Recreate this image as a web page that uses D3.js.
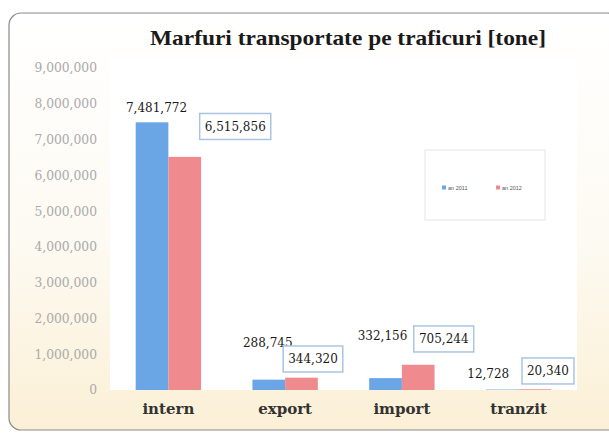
<!DOCTYPE html>
<html><head><meta charset="utf-8">
<script src="https://cdn.jsdelivr.net/npm/d3@7"></script>
<style>body{margin:0;background:#fff}</style>
</head><body>
<svg id="c" width="609" height="436"></svg>
<script>
const categories = ["intern", "export", "import", "tranzit"];
const seriesNames = ["an 2011", "an 2012"];
const series1 = [7481772, 288745, 332156, 12728];
const series2 = [6515856, 344320, 705244, 20340];
const yTicks = [0,1000000,2000000,3000000,4000000,5000000,6000000,7000000,8000000,9000000];
const title = "Marfuri transportate pe traficuri [tone]";

(function(){
const svg = d3.select("#c");
const defs = svg.append("defs");
const g1 = defs.append("linearGradient").attr("id","bg").attr("x1",0).attr("y1",0).attr("x2",0).attr("y2",1);
g1.append("stop").attr("offset","0%").attr("stop-color","#ffffff");
g1.append("stop").attr("offset","55%").attr("stop-color","#fdfaf2");
g1.append("stop").attr("offset","100%").attr("stop-color","#fbf0d6");

svg.append("rect").attr("x",9).attr("y",13).attr("width",610).attr("height",417).attr("rx",12)
  .attr("fill","url(#bg)").attr("stroke","#8a8a8a").attr("stroke-width",1.2);

const pl=110, pr=577, pt=58, pb=390;
const x = d3.scaleBand().domain(categories).range([pl,pr]).paddingInner(0.44).paddingOuter(0.22);
const x1 = d3.scaleBand().domain([0,1]).range([0,x.bandwidth()]);
const y = d3.scaleLinear().domain([0,9000000]).range([pb,68]);

svg.append("rect").attr("x",pl).attr("y",pt).attr("width",pr-pl).attr("height",pb-pt).attr("fill","#fff");

svg.append("text").attr("x",348).attr("y",45).attr("text-anchor","middle")
  .attr("font-family","Liberation Serif").attr("font-weight","bold").attr("font-size",21)
  .attr("textLength",396).attr("lengthAdjust","spacingAndGlyphs").attr("fill","#1a1a1a").text(title);

const ax = svg.append("g").attr("transform",`translate(97,0)`)
  .call(d3.axisLeft(y).tickValues(yTicks).tickFormat(d3.format(",")).tickSize(0).tickPadding(0));
ax.select(".domain").remove();
ax.selectAll("text").attr("font-family","DejaVu Serif").attr("font-size",12.3).attr("fill","#aaa");

const colors = ["#6aa5e6","#ef8a8f"];
const data = [series1, series2];
data.forEach((s,si)=>{
  svg.append("g").selectAll("rect").data(s).join("rect")
    .attr("x",(d,i)=>x(categories[i])+x1(si))
    .attr("width",x1.bandwidth())
    .attr("y",d=>y(d)).attr("height",d=>pb-y(d))
    .attr("fill",colors[si]);
});

svg.append("g").selectAll("text").data(categories).join("text")
  .attr("x",d=>x(d)+x.bandwidth()/2).attr("y",414).attr("text-anchor","middle")
  .attr("font-family","DejaVu Serif").attr("font-weight","bold").attr("font-size",15).attr("fill","#333").text(d=>d);

const fmt = d3.format(",");
const off1 = [[4.5,-10],[-1,-33],[-3,-38],[-14,-11.5]];
svg.append("g").selectAll("text").data(series1).join("text")
  .attr("x",(d,i)=>x(categories[i])+x1(0)+x1.bandwidth()/2+off1[i][0])
  .attr("y",(d,i)=>y(d)+off1[i][1])
  .attr("text-anchor","middle").attr("font-family","DejaVu Serif").attr("font-size",12).attr("fill","#1a1a1a")
  .text(d=>fmt(d));
const off2 = [[50.5,-30.4],[11.5,-18.7],[25.5,-25.8],[13,-18.3]];
const lg = svg.append("g").selectAll("g").data(series2).join("g")
  .attr("transform",(d,i)=>`translate(${x(categories[i])+x1(1)+x1.bandwidth()/2+off2[i][0]},${y(d)+off2[i][1]})`);
lg.append("rect").attr("y",-13).attr("height",26)
  .attr("fill","#fff").attr("stroke","#a9c5e3").attr("stroke-width",1.5);
lg.append("text").attr("text-anchor","middle").attr("y",4.5).attr("font-family","DejaVu Serif").attr("font-size",12).attr("fill","#1a1a1a")
  .text(d=>fmt(d));
lg.each(function(){
  const t = d3.select(this).select("text").node().getBBox();
  d3.select(this).select("rect").attr("x",-t.width/2-5).attr("width",t.width+10);
});

svg.append("rect").attr("x",425).attr("y",150).attr("width",120).attr("height",70)
  .attr("fill","#fff").attr("stroke","#e4e4e4");
const leg = svg.append("g").selectAll("g").data(seriesNames).join("g")
  .attr("transform",(d,i)=>`translate(${442+i*54},188)`);
leg.append("rect").attr("x",0).attr("y",-2.5).attr("width",4).attr("height",4).attr("fill",(d,i)=>colors[i]);
leg.append("text").attr("x",6).attr("y",1.5).attr("font-family","Liberation Sans").attr("font-size",5.5).attr("fill","#555").text(d=>d);
})();
</script>
</body></html>
